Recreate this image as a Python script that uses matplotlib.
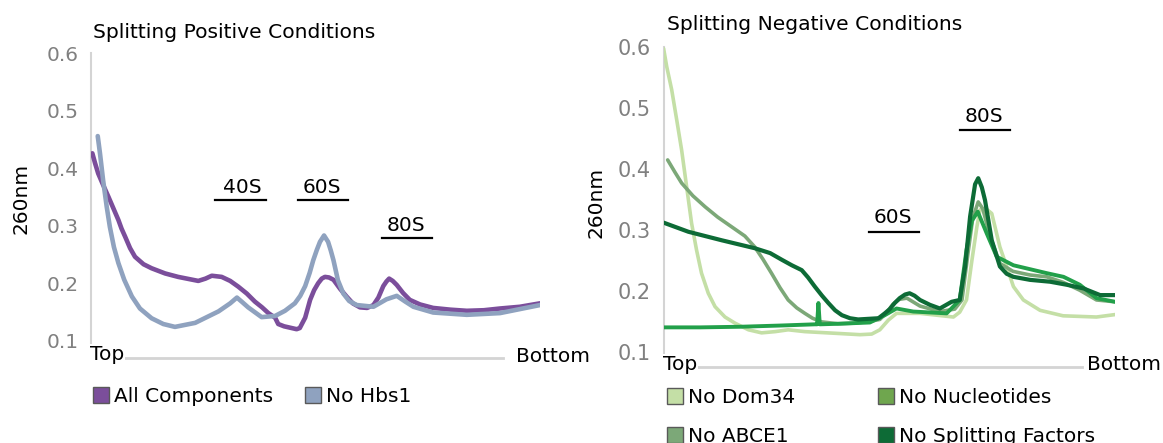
import matplotlib
matplotlib.use("Agg")
import matplotlib.pyplot as plt
from matplotlib.patches import Rectangle

W, H = 1163, 443
plt.rcParams['font.family'] = ['DejaVu Sans']

# ---------------- data: left panel (gradient position 0=Top .. 1=Bottom) ----------------
pos_x = [0.003, 0.009, 0.016, 0.027, 0.039, 0.050, 0.061, 0.068, 0.076, 0.087, 0.098, 0.117,
         0.135, 0.165, 0.194, 0.239, 0.255, 0.269, 0.291, 0.310, 0.328, 0.347, 0.365, 0.381,
         0.395, 0.410, 0.417, 0.430, 0.458, 0.465, 0.477, 0.488, 0.497, 0.506, 0.514, 0.521,
         0.530, 0.540, 0.555, 0.569, 0.583, 0.599, 0.615, 0.629, 0.640, 0.651, 0.658, 0.664,
         0.672, 0.681, 0.695, 0.710, 0.733, 0.762, 0.800, 0.837, 0.875, 0.911, 0.955, 1.000]
all_components = [0.426, 0.409, 0.391, 0.371, 0.350, 0.330, 0.310, 0.295, 0.281, 0.261, 0.246, 0.233,
                  0.226, 0.217, 0.211, 0.204, 0.208, 0.213, 0.211, 0.204, 0.194, 0.182, 0.168, 0.158,
                  0.148, 0.140, 0.129, 0.125, 0.120, 0.122, 0.140, 0.171, 0.188, 0.200, 0.208, 0.211,
                  0.210, 0.206, 0.190, 0.177, 0.165, 0.158, 0.157, 0.162, 0.175, 0.195, 0.203, 0.208,
                  0.204, 0.197, 0.183, 0.171, 0.163, 0.157, 0.154, 0.152, 0.153, 0.156, 0.159, 0.165]

hbs_x = [0.015, 0.020, 0.027, 0.035, 0.042, 0.051, 0.061, 0.074, 0.091, 0.109, 0.135, 0.161,
         0.187, 0.232, 0.284, 0.310, 0.325, 0.337, 0.350, 0.380, 0.410, 0.432, 0.454, 0.466,
         0.477, 0.487, 0.495, 0.503, 0.510, 0.519, 0.528, 0.534, 0.540, 0.550, 0.562, 0.575,
         0.592, 0.629, 0.658, 0.681, 0.700, 0.718, 0.762, 0.837, 0.911, 1.000]
no_hbs1 = [0.456, 0.426, 0.379, 0.333, 0.298, 0.263, 0.235, 0.206, 0.177, 0.156, 0.139, 0.129,
           0.124, 0.131, 0.151, 0.165, 0.175, 0.167, 0.158, 0.141, 0.143, 0.152, 0.165, 0.178,
           0.195, 0.218, 0.240, 0.258, 0.272, 0.283, 0.272, 0.257, 0.240, 0.205, 0.182, 0.169,
           0.162, 0.159, 0.172, 0.178, 0.168, 0.159, 0.149, 0.145, 0.148, 0.162]

# ---------------- data: right panel ----------------
dom_x = [0.000, 0.007, 0.018, 0.029, 0.040, 0.051, 0.062, 0.073, 0.084, 0.099, 0.114, 0.136,
         0.158, 0.188, 0.217, 0.247, 0.276, 0.313, 0.387, 0.435, 0.461, 0.479, 0.498, 0.516,
         0.568, 0.642, 0.656, 0.671, 0.683, 0.694, 0.701, 0.714, 0.727, 0.745, 0.760, 0.775,
         0.797, 0.834, 0.885, 0.959, 1.000]
no_dom34 = [0.598, 0.568, 0.530, 0.481, 0.431, 0.371, 0.311, 0.267, 0.229, 0.196, 0.174, 0.157,
            0.147, 0.136, 0.131, 0.133, 0.136, 0.133, 0.130, 0.128, 0.129, 0.136, 0.152, 0.163,
            0.163, 0.157, 0.165, 0.185, 0.250, 0.305, 0.333, 0.335, 0.327, 0.272, 0.240, 0.207,
            0.185, 0.168, 0.159, 0.157, 0.161]

abce_x = [0.009, 0.025, 0.040, 0.065, 0.092, 0.120, 0.151, 0.180, 0.202, 0.220, 0.239, 0.258,
          0.276, 0.295, 0.313, 0.330, 0.350, 0.386, 0.424, 0.457, 0.479, 0.495, 0.508, 0.522,
          0.539, 0.568, 0.612, 0.645, 0.661, 0.674, 0.685, 0.697, 0.707, 0.723, 0.745, 0.774,
          0.812, 0.849, 0.885, 0.922, 0.959, 1.000]
no_abce1 = [0.415, 0.395, 0.377, 0.356, 0.338, 0.321, 0.305, 0.290, 0.272, 0.252, 0.229, 0.205,
            0.185, 0.172, 0.163, 0.155, 0.149, 0.146, 0.147, 0.150, 0.153, 0.165, 0.178, 0.186,
            0.188, 0.175, 0.166, 0.170, 0.185, 0.260, 0.320, 0.346, 0.335, 0.290, 0.245, 0.232,
            0.226, 0.223, 0.214, 0.201, 0.185, 0.182]

nuc_x = [0.000, 0.081, 0.169, 0.258, 0.335, 0.340, 0.343, 0.346, 0.391, 0.457, 0.490, 0.516,
         0.553, 0.627, 0.656, 0.671, 0.683, 0.696, 0.716, 0.738, 0.775, 0.849, 0.886, 0.922,
         0.959, 1.000]
no_nucleotides = [0.140, 0.140, 0.141, 0.143, 0.145, 0.145, 0.180, 0.145, 0.146, 0.148, 0.160, 0.171,
                  0.166, 0.163, 0.185, 0.267, 0.315, 0.330, 0.294, 0.256, 0.242, 0.229, 0.223, 0.210,
                  0.188, 0.182]

split_x = [0.000, 0.055, 0.129, 0.202, 0.236, 0.262, 0.284, 0.306, 0.320, 0.335, 0.351, 0.365,
           0.380, 0.395, 0.413, 0.431, 0.476, 0.490, 0.501, 0.512, 0.523, 0.535, 0.545, 0.556,
           0.568, 0.590, 0.612, 0.638, 0.656, 0.668, 0.679, 0.690, 0.697, 0.705, 0.712, 0.727,
           0.745, 0.760, 0.775, 0.812, 0.856, 0.893, 0.930, 0.967, 1.000]
no_splitting = [0.312, 0.297, 0.283, 0.270, 0.262, 0.251, 0.242, 0.234, 0.222, 0.207, 0.192, 0.180,
                0.168, 0.160, 0.155, 0.153, 0.155, 0.163, 0.170, 0.180, 0.188, 0.194, 0.196, 0.192,
                0.185, 0.177, 0.171, 0.182, 0.185, 0.240, 0.322, 0.375, 0.385, 0.370, 0.349, 0.283,
                0.240, 0.228, 0.223, 0.218, 0.215, 0.210, 0.204, 0.193, 0.193]

yticks = [0.1, 0.2, 0.3, 0.4, 0.5, 0.6]
ytick_labels = ["0.1", "0.2", "0.3", "0.4", "0.5", "0.6"]

left_title = "Splitting Positive Conditions"
right_title = "Splitting Negative Conditions"
left_names = ["All Components", "No Hbs1"]
right_names = ["No Dom34", "No ABCE1", "No Nucleotides", "No Splitting Factors"]

# peak labels: (text, x, y, underline x0, underline x1, underline y) in data coordinates
left_peaks = [("40S", 0.336, 0.367, 0.276, 0.390, 0.345),
              ("60S", 0.514, 0.367, 0.461, 0.572, 0.345),
              ("80S", 0.702, 0.301, 0.648, 0.759, 0.279)]
right_peaks = [("60S", 0.508, 0.320, 0.455, 0.566, 0.297),
               ("80S", 0.710, 0.487, 0.657, 0.768, 0.464)]

# ---------------- styling ----------------
c_purple = "#7b4e9b"
c_blue = "#8fa2bf"
c_dom = "#c4dfa6"
c_abce = "#7ca878"
c_nuc = "#22a04a"
c_split = "#0d6b36"
leg_nuc = "#6fa64e"
axis_grey = "#d4d4d4"
tick_grey = "#808080"
FS = 14.5

fig = plt.figure(figsize=(W / 100, H / 100), dpi=100)


def fx(px):
    return px / W


def fy(py):
    return 1 - py / H


def make_axes(x0, x1, y_bottom, y_top, ybot_val, tsize):
    ax = fig.add_axes([fx(x0), fy(y_bottom), fx(x1) - fx(x0), fy(y_top) - fy(y_bottom)])
    ax.set_xlim(0, 1)
    ax.set_ylim(ybot_val, 0.6)
    for s in ["top", "right", "bottom"]:
        ax.spines[s].set_visible(False)
    ax.spines["left"].set_color(axis_grey)
    ax.spines["left"].set_linewidth(1.5)
    ax.set_xticks([])
    ax.set_yticks(yticks)
    ax.set_yticklabels(ytick_labels)
    ax.tick_params(axis="y", length=0, pad=9, labelsize=tsize, labelcolor=tick_grey)
    ax.patch.set_alpha(0)
    return ax


kw = dict(solid_joinstyle="round", solid_capstyle="round")

# Left panel
axL = make_axes(91, 540, 357.7, 53.3, 0.0704, 14.5)
axL.plot(pos_x, all_components, color=c_purple, lw=3.3, zorder=3, **kw)
axL.plot(hbs_x, no_hbs1, color=c_blue, lw=3.3, zorder=4, **kw)
axL.plot([0, 0.918], [0, 0], transform=axL.transAxes, color=axis_grey, lw=2, clip_on=False, zorder=1)
for t, x, y, u0, u1, uy in left_peaks:
    axL.text(x, y, t, ha="center", va="center", fontsize=FS)
    axL.plot([u0, u1], [uy, uy], color="black", lw=1.6, zorder=2)

# Right panel
axR = make_axes(663.6, 1115, 366.7, 47.3, 0.0754, 15)
axR.plot(dom_x, no_dom34, color=c_dom, lw=2.6, zorder=3, **kw)
axR.plot(abce_x, no_abce1, color=c_abce, lw=2.6, zorder=4, **kw)
axR.plot(nuc_x, no_nucleotides, color=c_nuc, lw=2.8, zorder=5, **kw)
axR.plot(split_x, no_splitting, color=c_split, lw=3.0, zorder=6, **kw)
axR.plot([0, 0.927], [0, 0], transform=axR.transAxes, color=axis_grey, lw=2, clip_on=False, zorder=1)
for t, x, y, u0, u1, uy in right_peaks:
    axR.text(x, y, t, ha="center", va="center", fontsize=FS)
    axR.plot([u0, u1], [uy, uy], color="black", lw=1.6, zorder=2)

# Titles
fig.text(fx(93), fy(33), left_title, ha="left", va="center", fontsize=14.6)
fig.text(fx(667), fy(24), right_title, ha="left", va="center", fontsize=14.6)

# y labels
fig.text(fx(21), fy(198), "260nm", rotation=90, ha="center", va="center", fontsize=FS)
fig.text(fx(596), fy(202), "260nm", rotation=90, ha="center", va="center", fontsize=FS)

# Top / Bottom labels
bb = dict(facecolor="white", edgecolor="none", pad=0.5)
fig.text(fx(90), fy(360), "Top", ha="left", va="baseline", fontsize=FS, bbox=bb)
fig.text(fx(516), fy(362), "Bottom", ha="left", va="baseline", fontsize=FS)
fig.text(fx(663), fy(370), "Top", ha="left", va="baseline", fontsize=FS, bbox=bb)
fig.text(fx(1087), fy(370), "Bottom", ha="left", va="baseline", fontsize=FS)


# Legends (manual)
def legend_item(px, py_base, color, label, size=16):
    fig.add_artist(Rectangle((fx(px), fy(py_base + 1)), size / W, size / H,
                             facecolor=color, edgecolor="#595959", lw=1.0,
                             transform=fig.transFigure))
    fig.text(fx(px + size + 5), fy(py_base), label, ha="left", va="baseline", fontsize=FS)


legend_item(93, 402, c_purple, left_names[0])
legend_item(305, 402, c_blue, left_names[1])
legend_item(667, 403, c_dom, right_names[0])
legend_item(667, 442, c_abce, right_names[1])
legend_item(878, 403, leg_nuc, right_names[2])
legend_item(878, 442, c_split, right_names[3])

fig.savefig("out.png", dpi=100)
